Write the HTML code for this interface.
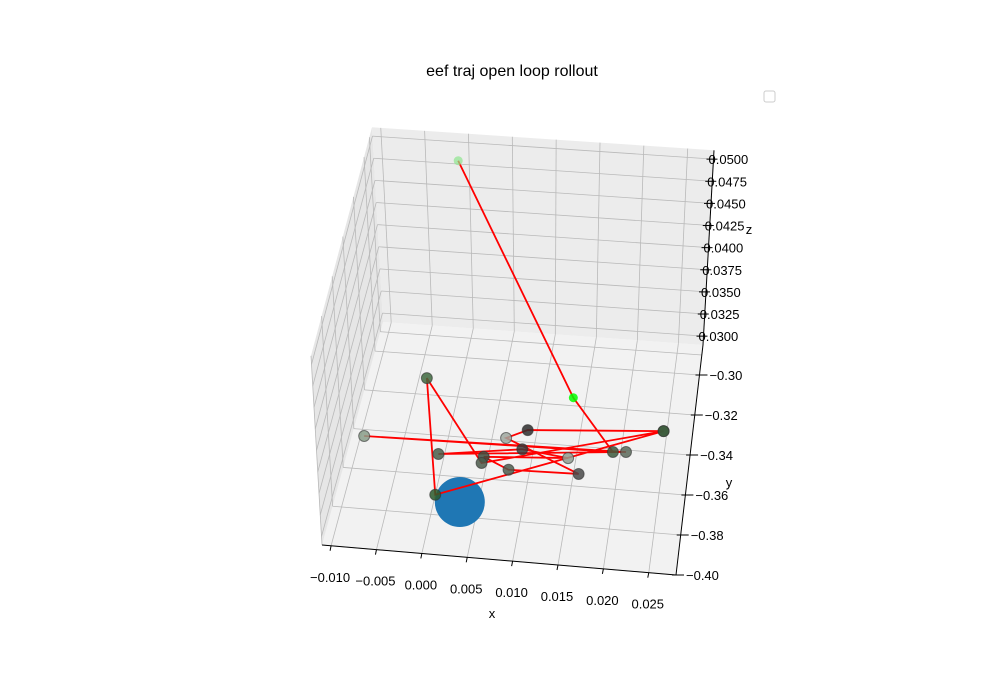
<!DOCTYPE html>
<html><head><meta charset="utf-8"><style>
html,body{margin:0;padding:0;background:#fff;}
svg{display:block;font-family:"Liberation Sans","DejaVu Sans",sans-serif;}
</style></head><body>
<svg id="c" width="1000" height="700" viewBox="0 0 1000 700">
<text x="512" y="76" text-anchor="middle" font-size="16" fill="#000">eef traj open loop rollout</text>
<rect x="764" y="91" width="11" height="11" rx="2" fill="#fff" stroke="#ccc"/>
</svg>
<script>
const xTicks=[-0.010,-0.005,0.000,0.005,0.010,0.015,0.020,0.025];
const xTickLabels=["\u22120.010","\u22120.005","0.000","0.005","0.010","0.015","0.020","0.025"];
const yTicks=[-0.40,-0.38,-0.36,-0.34,-0.32,-0.30];
const yTickLabels=["\u22120.40","\u22120.38","\u22120.36","\u22120.34","\u22120.32","\u22120.30"];
const zTicks=[0.0300,0.0325,0.0350,0.0375,0.0400,0.0425,0.0450,0.0475,0.0500];
const zTickLabels=["0.0300","0.0325","0.0350","0.0375","0.0400","0.0425","0.0450","0.0475","0.0500"];
const trajX=[-0.0012,0.0135,0.0191,-0.0096,0.0206,-0.0007,0.0087,0.0141,0.0045,0.0076,0.0156,0.0066,0.0089,0.0246,0.0044,-0.0041,0.0000,0.0246];
const trajY=[-0.286,-0.316,-0.3415,-0.3433,-0.341,-0.3494,-0.3437,-0.3463,-0.349,-0.3545,-0.3538,-0.3387,-0.3339,-0.3292,-0.3522,-0.3117,-0.370,-0.3292];
const trajZ=[0.0481,0.029,0.029,0.029,0.029,0.029,0.029,0.029,0.029,0.029,0.029,0.029,0.029,0.029,0.029,0.029,0.029,0.029];
const goalX=[0.0029], goalY=[-0.3726], goalZ=[0.029];

const XMIN=-0.011,XMAX=0.028,YMIN=-0.40,YMAX=-0.285,ZMIN=0.029,ZMAX=0.051;
const FL=[322,545],FR=[676,575],BL=[383,322],BR=[703,345];
function proj(x,y,z){
  const u=(x-XMIN)/(XMAX-XMIN), v=(y-YMIN)/(YMAX-YMIN);
  let px=FL[0]*(1-u)*(1-v)+FR[0]*u*(1-v)+BL[0]*(1-u)*v+BR[0]*u*v;
  let py=FL[1]*(1-u)*(1-v)+FR[1]*u*(1-v)+BL[1]*(1-u)*v+BR[1]*u*v;
  const k=8600+250*v;
  py-=(z-ZMIN)*k;
  px+=(z-ZMIN)*500*(2*u-1);
  return [px,py];
}
const svg=document.getElementById('c');
const NS='http://www.w3.org/2000/svg';
function el(t,a,p){const e=document.createElementNS(NS,t);for(const k in a)e.setAttribute(k,a[k]);(p||svg).appendChild(e);return e;}
function pts(arr){return arr.map(p=>p.join(',')).join(' ');}
function line(a,b,st,w){return el('line',{x1:a[0],y1:a[1],x2:b[0],y2:b[1],stroke:st,'stroke-width':w||1});}

const floor=el('polygon',{points:pts([proj(XMIN,YMIN,ZMIN),proj(XMAX,YMIN,ZMIN),proj(XMAX,YMAX,ZMIN),proj(XMIN,YMAX,ZMIN)]),fill:'#f2f2f2'});


const back=el('polygon',{points:pts([proj(XMIN,YMAX,ZMIN),proj(XMAX,YMAX,ZMIN),proj(XMAX,YMAX,ZMAX),proj(XMIN,YMAX,ZMAX)]),fill:'#ececec'});


const left=el('polygon',{points:pts([proj(XMIN,YMIN,ZMIN),proj(XMIN,YMAX,ZMIN),proj(XMIN,YMAX,ZMAX),proj(XMIN,YMIN,ZMAX)]),fill:'#e6e6e6'});



const gc='#b9b9b9';
xTicks.forEach(x=>{
  line(proj(x,YMIN,ZMIN),proj(x,YMAX,ZMIN),gc,0.8);
  line(proj(x,YMAX,ZMIN),proj(x,YMAX,ZMAX),gc,0.8);
});
yTicks.concat([-0.29]).forEach(y=>{
  line(proj(XMIN,y,ZMIN),proj(XMAX,y,ZMIN),gc,0.8);
  line(proj(XMIN,y,ZMIN),proj(XMIN,y,ZMAX),gc,0.8);
});
zTicks.forEach(z=>{
  line(proj(XMIN,YMAX,z),proj(XMAX,YMAX,z),gc,0.8);
  line(proj(XMIN,YMIN,z),proj(XMIN,YMAX,z),gc,0.8);
});

const xa=line(proj(XMIN,YMIN,ZMIN),proj(XMAX,YMIN,ZMIN),'#000',1);


const ya=line(proj(XMAX,YMIN,ZMIN),proj(XMAX,YMAX,ZMIN),'#000',1);


const za=line(proj(XMAX,YMAX,ZMIN),proj(XMAX,YMAX,ZMAX),'#000',1);



xTicks.forEach((x,i)=>{
  const p=proj(x,YMIN,ZMIN);
  line(p,[p[0]-1,p[1]+5],'#000',1);
  const t=el('text',{x:p[0]-1,y:p[1]+36,'text-anchor':'middle','font-size':13});
  t.textContent=xTickLabels[i];
  
  
});
yTicks.forEach((y,i)=>{
  const p=proj(XMAX,y,ZMIN);
  line([p[0]-4,p[1]],[p[0]+8,p[1]],'#000',1);
  const t=el('text',{x:p[0]+10,y:p[1]+5,'font-size':13});
  t.textContent=yTickLabels[i];
  
  
});
zTicks.forEach((z,i)=>{
  const p=proj(XMAX,YMAX,z);
  line([p[0]-7,p[1]],[p[0]+4,p[1]],'#000',1);
  const t=el('text',{x:p[0]-5,y:p[1]+5,'font-size':13});
  t.textContent=zTickLabels[i];
  
  
});
const xl=el('text',{x:492,y:618,'text-anchor':'middle','font-size':13});xl.textContent='x';


const yl=el('text',{x:729,y:487,'text-anchor':'middle','font-size':13});yl.textContent='y';


const zl=el('text',{x:749,y:234,'text-anchor':'middle','font-size':13});zl.textContent='z';



const g=proj(goalX[0],goalY[0],goalZ[0]);
const gc2=el('circle',{cx:g[0],cy:g[1],r:25,fill:'#1f77b4'});



const P=trajX.map((x,i)=>proj(x,trajY[i],trajZ[i]));
const pl=el('polyline',{points:pts(P),fill:'none',stroke:'#ff0000','stroke-width':1.8});


const fills=['#8fe68f','#00ff00','#3d5a3d','#8a9e8a','#5a6a5a','#4a5e4a','#3a3a3a','#909e90','#3c4c3c','#4d5d4d','#4a4a4a','#a0a8a0','#2e2e2e','#3b5a3b','#4b5b4b','#3f6a3f','#2c5a2c','#3b5a3b'];
P.forEach((p,i)=>{
  const bright=i<2;
  const c=el('circle',{cx:p[0],cy:p[1],r:bright?4.5:5.5,fill:fills[i],stroke:bright?'none':'#333','stroke-opacity':0.6,'fill-opacity':i===0?0.7:0.85});
  
  
});
</script>
</body></html>
